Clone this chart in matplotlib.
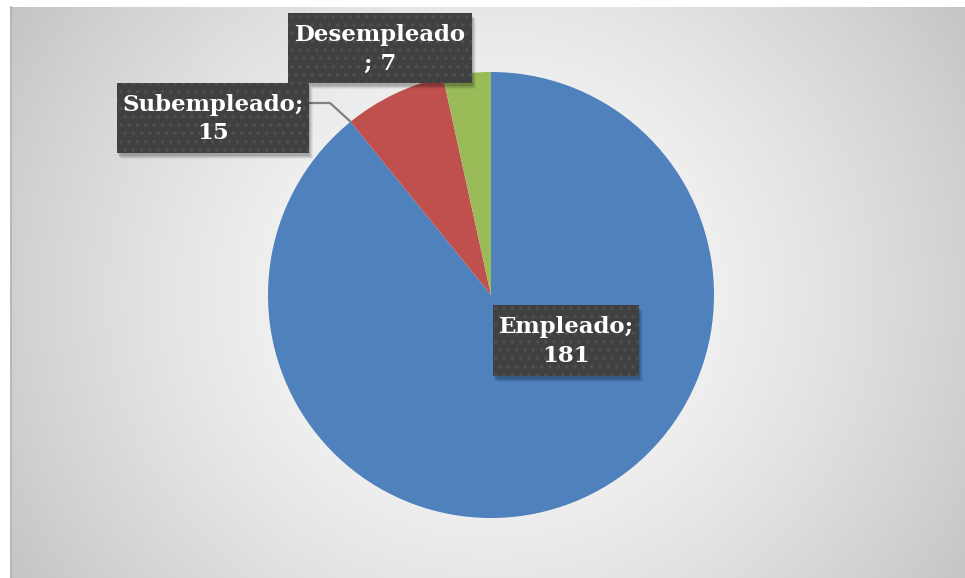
import numpy as np
import matplotlib.pyplot as plt
from matplotlib.patches import Rectangle

# datos
categorias = ['Empleado', 'Subempleado', 'Desempleado']
valores = [181, 15, 7]
colores = ['#4F81BD', '#C0504D', '#9BBB59']
etiquetas = ['Empleado;\n181', 'Subempleado;\n15', 'Desempleado\n; 7']

W, H = 965, 578
plt.rcParams['hatch.color'] = '#4e4e4e'
plt.rcParams['hatch.linewidth'] = 1.4

fig = plt.figure(figsize=(W / 100, H / 100), dpi=100)
ax = fig.add_axes([0, 0, 1, 1])


def px(x, y):
    # coordenadas de pixel (origen arriba a la izquierda) -> datos
    return x, H - y


# fondo con degradado radial
cx, cy = px(491, 295)
xs = np.arange(10, W) + 0.5
ys = np.arange(0, H - 7) + 0.5
gx, gy = np.meshgrid(xs, ys)
d = np.hypot((gx - cx) / 1.05, gy - cy) / 540.0
gris = 1.0 - 0.23 * np.clip(d, 0, 1.2) ** 1.4
img = np.dstack([gris, gris, gris])
ax.imshow(img, extent=(10, W, 0, H - 7), origin='lower', interpolation='bilinear', zorder=0)
ax.plot([10.5, 10.5], [0, H - 7], color='#b4b4b4', lw=1.2, zorder=1)

# pastel
r = 223
cunas, _ = ax.pie(valores, colors=colores, startangle=90, counterclock=False,
                  center=(cx, cy), radius=r, wedgeprops=dict(linewidth=0))
for w in cunas:
    w.set_zorder(2)

ax.set_xlim(0, W)
ax.set_ylim(0, H)
ax.set_aspect('auto')
ax.axis('off')

# linea guia de Subempleado hasta el borde de su cuña
ang = np.deg2rad(90 - 360 * valores[0] / sum(valores))
bx, by = cx + r * np.cos(ang), cy + r * np.sin(ang)
p1 = px(309, 103)
p2 = px(330, 103)
ax.plot([p1[0], p2[0], bx], [p1[1], p2[1], by], color='#808080', lw=1.6, zorder=3)

# cajas de etiquetas (x0, y0, x1, y1 en pixeles)
cajas = [(493, 305, 639, 376), (117, 83, 309, 153), (288, 13, 472, 83)]
for texto, (x0, y0, x1, y1) in zip(etiquetas, cajas):
    sx, sy = px(x0, y1)
    for k, a in [(6, 0.05), (5, 0.07), (4, 0.09), (3, 0.11)]:
        ax.add_patch(Rectangle((sx + k - 2, sy - k), x1 - x0, y1 - y0,
                               facecolor='black', alpha=a, lw=0, zorder=4))
    ax.add_patch(Rectangle((sx, sy), x1 - x0, y1 - y0, facecolor='#404040',
                           hatch='..', lw=0, zorder=5))
    tx, ty = px((x0 + x1) / 2, (y0 + y1) / 2 + 1)
    ax.text(tx, ty, texto, ha='center', va='center', color='white',
            fontsize=16.5, fontweight='bold', family='DejaVu Serif',
            linespacing=1.4, zorder=6)

fig.savefig('out.png', dpi=100)
